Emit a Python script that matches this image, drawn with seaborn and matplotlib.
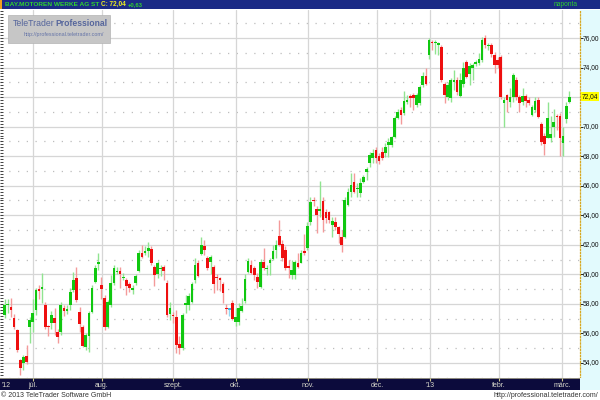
import numpy as np
import pandas as pd
import seaborn as sns
import matplotlib.pyplot as plt
import matplotlib.transforms as mtransforms
from matplotlib.patches import Rectangle
from matplotlib.ticker import MultipleLocator

# daily OHLC, late June 2012 .. early March 2013
opens = [57.25, 57.9, 57.8, 57.05, 56.2, 54.2, 54.0, 54.5, 56.4, 56.8,
         57.6, 59.0, 59.0, 57.95, 56.5, 56.7, 57.05, 56.1, 56.1, 57.75,
         57.55, 57.9, 58.95, 59.76, 57.46, 56.4, 55.1, 55.8, 57.46, 59.5,
         60.7, 59.3, 58.4, 56.45, 57.93, 59.4, 60.15, 60.2, 59.75, 59.6,
         59.35, 58.95, 59.4, 60.2, 61.45, 61.45, 61.6, 61.7, 60.5, 60.0,
         60.35, 60.5, 59.4, 57.3, 57.25, 57.1, 55.3, 55.0, 57.9, 57.9,
         58.1, 59.6, 60.8, 61.4, 61.9, 61.1, 60.85, 60.5, 59.85, 59.75,
         59.36, 57.75, 57.6, 58.07, 56.8, 56.8, 57.5, 58.2, 60.17, 60.6,
         60.4, 59.8, 59.15, 60.85, 60.35, 60.8, 61.05, 61.66, 62.6, 62.05,
         61.66, 60.55, 59.97, 59.97, 60.8, 60.8, 61.55, 61.8, 63.55, 65.05,
         64.4, 64.3, 64.98, 64.2, 64.2, 63.36, 63.56, 63.2, 62.54, 62.54,
         64.7, 65.6, 66.27, 65.75, 65.5, 66.27, 66.9, 67.56, 67.9, 68.44,
         68.03, 68.3, 68.2, 68.75, 68.75, 69.3, 70.6, 71.1, 70.95, 71.7,
         72.05, 72.16, 71.5, 71.6, 72.8, 73.4, 74.85, 75.75, 75.65, 75.55,
         75.4, 72.9, 72.0, 71.97, 73.05, 73.15, 72.1, 72.9, 74.37, 73.56,
         74.0, 74.25, 74.3, 74.5, 76.0, 75.45, 75.5, 74.85, 74.5, 74.7,
         71.6, 72.15, 71.7, 72.0, 73.15, 72.0, 71.7, 72.1, 71.8, 70.8,
         71.15, 71.83, 70.2, 69.4, 69.25, 69.2, 70.0, 70.75, 70.7, 68.9,
         70.5, 71.7]
highs = [58.3, 58.3, 58.4, 57.3, 56.3, 54.3, 54.55, 55.2, 57.1, 58.3,
         59.1, 59.3, 60.1, 58.1, 56.6, 57.5, 57.7, 56.3, 58.1, 57.9,
         57.95, 59.1, 60.17, 60.5, 57.8, 56.6, 56.0, 57.5, 59.3, 60.65,
         61.45, 59.8, 58.6, 58.27, 59.97, 60.65, 60.5, 60.5, 60.1, 59.76,
         59.5, 59.3, 60.0, 61.66, 62.0, 61.9, 62.2, 61.9, 60.65, 60.9,
         60.6, 60.6, 59.6, 58.1, 57.45, 57.6, 55.8, 57.4, 58.6, 58.75,
         59.5, 61.1, 61.0, 62.5, 62.3, 61.25, 61.3, 60.65, 60.0, 59.85,
         59.5, 58.0, 57.75, 58.27, 57.7, 58.05, 58.4, 60.0, 61.1, 61.0,
         60.55, 60.1, 61.05, 61.8, 60.65, 61.1, 62.0, 62.3, 63.7, 62.3,
         61.9, 61.0, 61.0, 61.0, 61.45, 61.66, 62.7, 63.56, 65.25, 65.25,
         64.6, 66.3, 65.25, 64.4, 64.3, 63.9, 63.9, 63.3, 63.0, 65.25,
         65.86, 66.87, 66.87, 66.2, 66.5, 66.7, 67.3, 68.3, 68.5, 68.6,
         68.24, 68.6, 68.9, 69.2, 69.4, 70.7, 71.2, 71.36, 72.4, 72.15,
         72.2, 72.3, 72.3, 72.8, 73.7, 73.97, 76.0, 75.9, 75.86, 75.75,
         75.5, 73.0, 73.0, 73.3, 73.83, 73.36, 73.6, 74.37, 74.5, 74.3,
         74.3, 74.5, 75.0, 76.07, 76.2, 75.65, 75.65, 75.05, 74.7, 74.85,
         72.0, 72.2, 72.6, 73.6, 73.36, 72.15, 72.6, 72.2, 72.0, 71.5,
         72.0, 72.0, 70.3, 69.6, 71.7, 70.7, 71.2, 70.85, 70.95, 70.0,
         71.7, 72.4]
lows = [57.05, 57.4, 57.1, 56.3, 54.75, 53.2, 53.5, 53.9, 55.35, 56.1,
        57.25, 58.3, 58.05, 56.3, 55.8, 56.3, 55.9, 55.35, 55.9, 57.2,
        57.3, 57.6, 58.8, 58.1, 56.1, 55.05, 54.9, 54.75, 57.4, 59.4,
        60.3, 58.3, 56.2, 56.35, 57.8, 59.3, 60.0, 59.1, 59.6, 58.6,
        58.8, 58.7, 59.3, 60.17, 61.1, 61.3, 61.2, 60.65, 59.2, 59.76,
        59.9, 59.6, 57.1, 56.9, 56.7, 54.7, 54.6, 54.9, 57.4, 57.6,
        58.05, 59.4, 59.8, 61.3, 61.3, 60.3, 60.0, 58.75, 58.95, 58.85,
        58.05, 57.3, 57.2, 56.9, 56.5, 56.55, 57.45, 58.05, 60.1, 60.05,
        59.6, 59.1, 59.1, 60.3, 59.97, 59.97, 61.0, 61.1, 61.9, 60.9,
        60.3, 59.76, 59.7, 59.7, 60.44, 60.75, 61.3, 61.66, 63.36, 64.6,
        62.8, 63.9, 62.9, 63.5, 63.5, 62.54, 63.0, 62.1, 61.5, 62.47,
        64.6, 65.25, 65.5, 65.25, 65.25, 66.2, 66.4, 67.3, 67.56, 67.56,
        67.5, 67.76, 67.97, 67.97, 68.6, 69.25, 70.5, 70.2, 70.8, 71.56,
        71.3, 71.15, 71.36, 71.5, 72.7, 72.8, 74.6, 75.2, 74.95, 74.85,
        73.0, 71.6, 71.8, 71.7, 72.5, 72.15, 72.0, 72.7, 73.3, 72.8,
        73.15, 74.1, 74.2, 74.37, 75.3, 75.2, 74.7, 73.6, 74.0, 71.9,
        70.0, 71.0, 71.36, 71.7, 71.8, 71.0, 71.5, 71.3, 71.5, 70.7,
        71.0, 70.6, 68.75, 68.1, 69.2, 68.95, 69.3, 69.8, 68.0, 68.03,
        70.27, 71.6]
closes = [57.9, 58.0, 57.6, 56.45, 54.9, 53.66, 54.4, 54.07, 56.9, 57.4,
          58.95, 58.9, 59.15, 56.45, 56.4, 57.25, 56.7, 55.76, 57.9, 57.55,
          57.65, 58.8, 59.6, 58.27, 56.64, 55.15, 55.9, 57.4, 59.1, 60.4,
          60.85, 59.0, 56.45, 58.1, 59.4, 60.4, 60.25, 60.05, 59.85, 59.2,
          59.1, 59.05, 59.9, 61.45, 61.2, 61.6, 61.8, 60.8, 59.97, 60.8,
          60.45, 60.2, 57.25, 57.7, 57.15, 55.2, 55.0, 57.25, 58.05, 58.5,
          59.35, 60.6, 59.9, 62.0, 61.66, 60.4, 61.2, 59.35, 59.75, 59.65,
          58.75, 57.65, 57.6, 56.98, 57.1, 57.7, 57.86, 59.7, 60.9, 60.1,
          59.97, 59.5, 60.85, 60.4, 60.45, 61.0, 61.6, 62.0, 62.0, 61.1,
          60.44, 60.45, 60.3, 60.85, 60.5, 61.45, 61.45, 63.3, 64.9, 64.95,
          64.0, 64.45, 63.7, 63.8, 63.7, 63.6, 63.2, 62.7, 62.0, 65.05,
          65.6, 66.07, 65.6, 65.85, 66.2, 66.6, 67.1, 68.1, 68.24, 67.9,
          67.7, 67.9, 68.6, 68.95, 69.3, 70.6, 71.0, 70.8, 71.76, 71.8,
          71.95, 71.97, 72.16, 72.7, 73.4, 72.9, 75.86, 75.65, 75.75, 75.65,
          73.16, 72.15, 72.85, 73.15, 73.15, 72.35, 73.15, 74.0, 73.36, 74.1,
          74.15, 74.35, 74.6, 75.85, 75.5, 75.55, 74.9, 74.2, 74.2, 72.0,
          71.8, 71.8, 72.0, 73.5, 72.0, 71.6, 72.1, 71.76, 71.6, 71.36,
          71.76, 70.67, 68.95, 68.85, 70.6, 69.5, 70.3, 70.65, 69.25, 69.4,
          71.4, 72.04]

month_labels = ["júl.", "aug.", "szept.", "okt.", "nov.", "dec.", "'13", "febr.", "márc."]
month_pos = [9.1, 31.2, 53.9, 74.1, 97.2, 119.3, 136.3, 158.4, 178.6]
price_ticks = list(range(54, 77, 2))
last_close = 72.04
change = 0.63
name = "BAY.MOTOREN WERKE AG ST"

sns.set_theme(style="white")
plt.rcParams["font.family"] = ["Liberation Sans", "DejaVu Sans"]

df = pd.DataFrame({"open": opens, "high": highs, "low": lows, "close": closes})
df["idx"] = np.arange(len(df))
up = df.close > df.open
down = df.close < df.open

body_col = np.where(up, "#10c810", np.where(down, "#ee0f0f", "#40b8e8"))
wick_col = np.where(up, "#90e490", np.where(down, "#f49a9a", "#8fd8f4"))

W, H = 600, 400
def fx(px):
    return px / W
def fy(py):
    return 1 - py / H

XLIM = (-1.5, 184.4)
YLIM = (52.98, 77.9)

fig = plt.figure(figsize=(6, 4), dpi=100)
fig.patch.set_facecolor("white")

# main price panel
ax = fig.add_axes([0, fy(378), fx(580), 368 / H])
ax.set_facecolor("white")
ax.set_xlim(*XLIM)
ax.set_ylim(*YLIM)
for s in ax.spines.values():
    s.set_visible(False)
ax.grid(False)
for v in range(54, 78, 2):
    ax.axhline(v, color="#d6d6d6", lw=0.9, zorder=0)
for v in range(53, 78, 2):
    ax.axhline(v, color="#bdbdbd", lw=0.9, ls=(0, (1, 6)), zorder=0)
for p in month_pos:
    ax.axvline(p, color="#d6d6d6", lw=0.9, zorder=0)

ax.vlines(df.idx, df.low, df.high, colors=wick_col, lw=1.0, zorder=2)
body_bottom = np.minimum(df.open, df.close)
body_h = np.maximum(np.abs(df.close - df.open), 0.1)
ax.bar(df.idx, body_h, bottom=body_bottom, width=0.86, color=body_col,
       linewidth=0, zorder=3)

ax.set_xticks([])
ax.yaxis.set_major_locator(MultipleLocator(1))
ax.yaxis.set_minor_locator(MultipleLocator(0.2))
ax.tick_params(axis="y", which="both", left=True, direction="in", length=2,
               width=0.6, color="#222222", labelleft=False)

# right price scale
ax_r = fig.add_axes([fx(580), fy(378), fx(20), 368 / H])
ax_r.set_facecolor("#e2fafd")
ax_r.set_ylim(*YLIM)
ax_r.set_xlim(0, 1)
ax_r.set_xticks([])
for k in ["top", "right", "bottom"]:
    ax_r.spines[k].set_visible(False)
ax_r.spines["left"].set_visible(True)
ax_r.spines["left"].set_color("#d8a820")
ax_r.spines["left"].set_linestyle((0, (1, 1.5)))
ax_r.spines["left"].set_linewidth(0.9)
ax_r.set_yticks(price_ticks)
ax_r.tick_params(axis="y", left=True, direction="in", length=2.5, width=0.7,
                 color="#222222", labelleft=False)
tr = mtransforms.blended_transform_factory(ax_r.transAxes, ax_r.transData)
for v in price_ticks:
    if abs(v - last_close) < 0.5:
        continue
    ax_r.text(0.12, v, f"{v:.2f}".replace(".", ","), transform=tr, fontsize=4.8,
              ha="left", va="center", color="#111111")
ax_r.text(0.1, last_close, f"{last_close:.2f}".replace(".", ","), transform=tr,
          fontsize=4.8, ha="left", va="center", color="#111111",
          bbox=dict(facecolor="#ffff00", edgecolor="none", pad=0.6))
fig.add_artist(Rectangle((fx(580), fy(390)), fx(20), 12 / H, transform=fig.transFigure,
                         facecolor="#e2fafd", edgecolor="none"))

# date bar
ax_d = fig.add_axes([0, fy(390), fx(580), 12 / H])
ax_d.set_facecolor("#0c0b3c")
ax_d.set_xlim(*XLIM)
ax_d.set_ylim(0, 1)
ax_d.set_xticks([])
ax_d.set_yticks([])
for s in ax_d.spines.values():
    s.set_visible(False)
ax_d.axhline(0.96, color="#a8a48c", lw=1.2)
ax_d.vlines(month_pos, 0.78, 1, color="#d0c890", lw=0.8)
for p, lab in zip(month_pos, month_labels):
    ax_d.text(p, 0.4, lab, ha="center", va="center", fontsize=5, color="#d8d8cc")
ax_d.text(0.003, 0.4, "'12", transform=ax_d.transAxes, ha="left", va="center",
          fontsize=5, color="#d8d8cc")

# header bar
fig.add_artist(Rectangle((0, fy(9)), 1, 9 / H, transform=fig.transFigure,
                         facecolor="#1b2b86", edgecolor="none"))
fig.add_artist(Rectangle((0, fy(9)), fx(2), 9 / H, transform=fig.transFigure,
                         facecolor="#f0a020", edgecolor="none"))
renderer = fig.canvas.get_renderer()

def put_fit(x0, x1, y, s, size, **kw):
    # shrink a text until it fits between x0 and x1 (pixels)
    t = fig.text(fx(x0), fy(y), s, fontsize=size, ha="left", va="center", **kw)
    w = t.get_window_extent(renderer).width
    if w > x1 - x0:
        t.set_fontsize(size * (x1 - x0) / w)
    return t

put_fit(5, 99, 4.5, name, 4.8, fontweight="bold", color="#2fd22f")
put_fit(101, 126, 4.5, f"C: {last_close:.2f}".replace(".", ","), 4.8,
        fontweight="bold", color="#f0f020")
put_fit(128, 143, 4.5, f"+{change:.2f}".replace(".", ","), 4.8,
        fontweight="bold", color="#2fd22f")
put_fit(554, 579, 4.5, "naponta", 4.8, color="#2fd22f")

# watermark
fig.add_artist(Rectangle((fx(8), fy(43)), fx(102), 28 / H, transform=fig.transFigure,
                         facecolor="#c6c6c6", edgecolor="#b4b4b4", lw=0.5, zorder=5))
put_fit(13, 54, 24, "TeleTrader", 7, color="#56669c", zorder=6)
put_fit(55, 107, 24, "Professional", 7, color="#56669c", fontweight="bold", zorder=6)
put_fit(24, 104, 34.5, "http://professional.teletrader.com/", 3.9,
        color="#6675a8", zorder=6)

# footer
fig.text(fx(1), fy(395.5), "© 2013 TeleTrader Software GmbH", fontsize=5,
         color="#333333", ha="left", va="center")
fig.text(fx(598), fy(395.5), "http://professional.teletrader.com/", fontsize=5,
         color="#333333", ha="right", va="center")

fig.savefig("out.png", dpi=100)
